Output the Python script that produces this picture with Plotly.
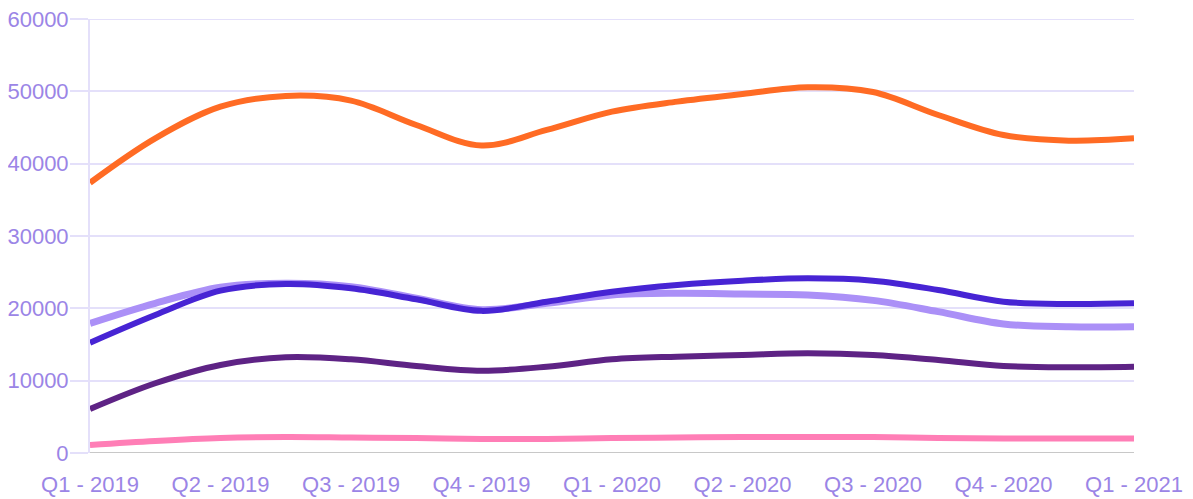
import plotly.graph_objects as go

quarters = ["Q1 - 2019", "Q2 - 2019", "Q3 - 2019", "Q4 - 2019", "Q1 - 2020",
            "Q2 - 2020", "Q3 - 2020", "Q4 - 2020", "Q1 - 2021"]
# sample positions (in quarters from Q1 2019, half-quarter steps)
positions = [i * 0.5 for i in range(17)]

orange = [37360, 43500, 47880, 49360, 48710, 45350, 42500, 44660, 47190,
          48580, 49630, 50560, 49900, 46730, 43960, 43180, 43500]
blue = [15250, 19080, 22440, 23370, 22770, 21250, 19650, 20920, 22300,
        23230, 23820, 24150, 23820, 22540, 20920, 20600, 20700]
light_purple = [17930, 20700, 22910, 23460, 22990, 21390, 19820, 20700, 21840,
                22080, 21980, 21840, 21100, 19540, 17840, 17460, 17460]
dark_purple = [6080, 9640, 12170, 13230, 12950, 12030, 11380, 11930, 12950,
               13320, 13550, 13780, 13550, 12860, 12030, 11850, 11930]
pink = [1110, 1660, 2070, 2210, 2140, 2070, 1940, 1940, 2070,
        2140, 2210, 2210, 2210, 2070, 2000, 2000, 2000]
y_ticks = [0, 10000, 20000, 30000, 40000, 50000, 60000]

series = [
    (pink, "#FF7EB6", 6),
    (dark_purple, "#5E2385", 6),
    (light_purple, "#AB90F7", 7),
    (blue, "#4724D4", 6),
    (orange, "#FF6B24", 6),
]

fig = go.Figure()
for vals, color, w in series:
    fig.add_trace(go.Scatter(
        x=positions, y=vals, mode="lines",
        line=dict(color=color, width=w, shape="spline", smoothing=1),
        showlegend=False, hoverinfo="skip",
    ))

grid = "#E4E0FA"
label = "#9B85E6"
fig.update_layout(
    width=1193, height=499,
    margin=dict(l=82, r=67, t=11, b=54),
    paper_bgcolor="white", plot_bgcolor="white",
    font=dict(family="Liberation Sans, Arial, sans-serif", size=22, color=label),
    xaxis=dict(
        range=[0, 8], tickmode="array", tickvals=list(range(9)), ticktext=quarters,
        showgrid=False, zeroline=False, showline=False, ticks="",
        tickfont=dict(size=22, color=label), automargin=False,
        ticklabelstandoff=16, ticklabeloverflow="allow",
    ),
    yaxis=dict(
        range=[0, 60000], tickmode="array",
        tickvals=y_ticks, ticktext=[str(v) for v in y_ticks],
        showgrid=True, gridcolor=grid, gridwidth=2, zeroline=False,
        showline=True, linecolor=grid, linewidth=2,
        ticks="outside", ticklen=18, tickcolor=grid, tickwidth=2,
        tickfont=dict(size=22, color=label), automargin=False,
        ticklabelstandoff=-3, ticklabeloverflow="allow",
    ),
    shapes=[
        dict(type="line", xref="paper", yref="y", x0=-20 / 1044, x1=1,
             y0=y_ticks[-1], y1=y_ticks[-1],
             line=dict(color=grid, width=2), layer="below"),
        dict(type="line", xref="paper", yref="y", x0=-20 / 1044, x1=1,
             y0=y_ticks[0], y1=y_ticks[0],
             line=dict(color="#C8C8C8", width=2), layer="below"),
    ],
)
fig.write_html("out.html")
